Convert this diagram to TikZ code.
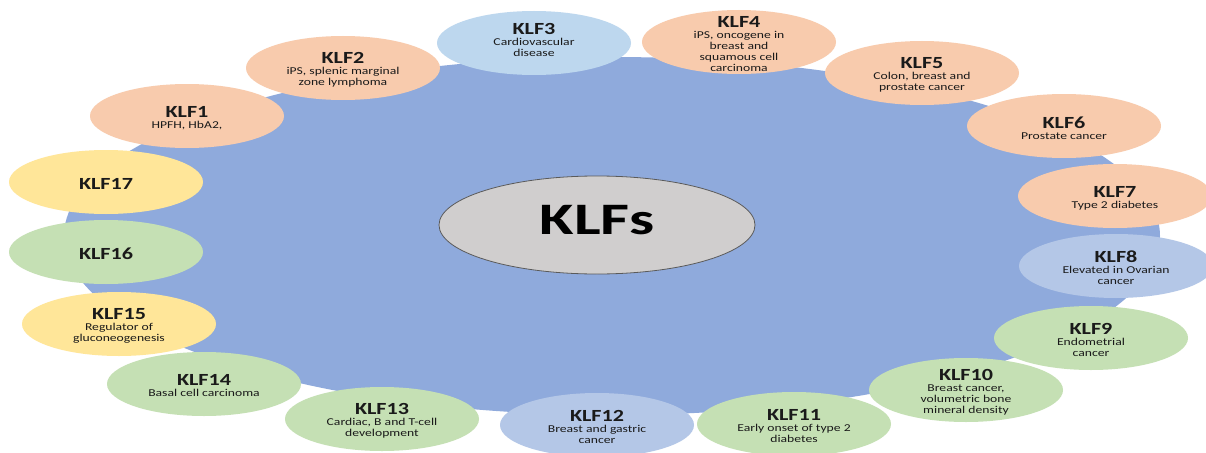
\documentclass[tikz,border=0pt]{standalone}
\usepackage{fontspec}
\setmainfont{Carlito}[FakeStretch=1.3]
\newfontfamily\corefont{Carlito}[FakeStretch=1.4]
\usetikzlibrary{shapes.geometric}
\definecolor{hubblue}{HTML}{8FAADC}
\definecolor{peach}{HTML}{F8CBAD}
\definecolor{skyblue}{HTML}{BDD7EE}
\definecolor{paleyellow}{HTML}{FFE699}
\definecolor{palegreen}{HTML}{C5E0B4}
\definecolor{paleblue}{HTML}{B4C7E7}
\definecolor{coregray}{HTML}{D0CECE}
\definecolor{coreline}{HTML}{5A5A5A}
\definecolor{ink}{HTML}{1A1A1A}
\newcommand{\ttl}[1]{{\fontsize{17}{18}\selectfont\bfseries #1}}
\tikzset{
  bubble/.style={ellipse, inner sep=0pt, minimum width=194pt, minimum height=64pt, draw=none},
  bubtext/.style={align=center, text=ink, inner sep=0pt, yshift=-2pt,
    font=\fontsize{10.5}{11}\selectfont},
  core/.style={ellipse, inner sep=0pt, minimum width=316pt, minimum height=98pt,
    fill=coregray, draw=coreline, line width=0.8pt, text=black},
}
\begin{document}
\begin{tikzpicture}[x=1pt,y=-1pt]
\useasboundingbox (0,0) rectangle (1206,452);
\fill[white] (0,0) rectangle (1206,452);
% backdrop disc
\node[ellipse, fill=hubblue, inner sep=0pt, minimum width=1096pt, minimum height=358pt] (hub) at (612,236) {};
% centre
\node[core] (klfs) at (597,225) {};
\node[inner sep=0pt, font=\corefont\fontsize{45}{50}\selectfont\bfseries] (klfstext) at (597,220) {KLFs};
% family members
\node[bubble, fill=peach]      (k1)  at (187,116) {};
\node[bubble, fill=peach]      (k2)  at (343,68)  {};
\node[bubble, fill=skyblue]    (k3)  at (534,43)  {};
\node[bubble, fill=peach]      (k4)  at (739,42)  {};
\node[bubble, fill=peach]      (k5)  at (922,73)  {};
\node[bubble, fill=peach]      (k6)  at (1064,126) {};
\node[bubble, fill=peach]      (k7)  at (1115,196) {};
\node[bubble, fill=paleblue]   (k8)  at (1116,266) {};
\node[bubble, fill=palegreen]  (k9)  at (1091,338) {};
\node[bubble, fill=palegreen]  (k10) at (966,390) {};
\node[bubble, fill=palegreen]  (k11) at (794,424) {};
\node[bubble, fill=paleblue]   (k12) at (597,425) {};
\node[bubble, fill=palegreen]  (k13) at (382,419) {};
\node[bubble, fill=palegreen]  (k14) at (204,384) {};
\node[bubble, fill=paleyellow] (k15) at (119,324) {};
\node[bubble, fill=palegreen]  (k16) at (106,252) {};
\node[bubble, fill=paleyellow] (k17) at (106,182) {};
% labels
\node[bubtext] (t1)  at (k1)  {\ttl{KLF1}\\HPFH, HbA2,};
\node[bubtext] (t2)  at (k2)  {\ttl{KLF2}\\iPS, splenic marginal\\zone lymphoma};
\node[bubtext, yshift=5pt] (t3)  at (k3) {\ttl{KLF3}\\Cardiovascular\\disease};
\node[bubtext] (t4)  at (k4)  {\ttl{KLF4}\\iPS, oncogene in\\breast and\\squamous cell\\carcinoma};
\node[bubtext] (t5)  at (k5)  {\ttl{KLF5}\\Colon, breast and\\prostate cancer};
\node[bubtext] (t6)  at (k6)  {\ttl{KLF6}\\Prostate cancer};
\node[bubtext] (t7)  at (k7)  {\ttl{KLF7}\\Type 2 diabetes};
\node[bubtext] (t8)  at (k8)  {\ttl{KLF8}\\Elevated in Ovarian\\cancer};
\node[bubtext] (t9)  at (k9)  {\ttl{KLF9}\\Endometrial\\cancer};
\node[bubtext] (t10) at (k10) {\ttl{KLF10}\\Breast cancer,\\volumetric bone\\mineral density};
\node[bubtext] (t11) at (k11) {\ttl{KLF11}\\Early onset of type 2\\diabetes};
\node[bubtext] (t12) at (k12) {\ttl{KLF12}\\Breast and gastric\\cancer};
\node[bubtext] (t13) at (k13) {\ttl{KLF13}\\Cardiac, B and T-cell\\development};
\node[bubtext] (t14) at (k14) {\ttl{KLF14}\\Basal cell carcinoma};
\node[bubtext] (t15) at (k15) {\ttl{KLF15}\\Regulator of\\gluconeogenesis};
\node[bubtext] (t16) at (k16) {\ttl{KLF16}};
\node[bubtext] (t17) at (k17) {\ttl{KLF17}};
\end{tikzpicture}
\end{document}
